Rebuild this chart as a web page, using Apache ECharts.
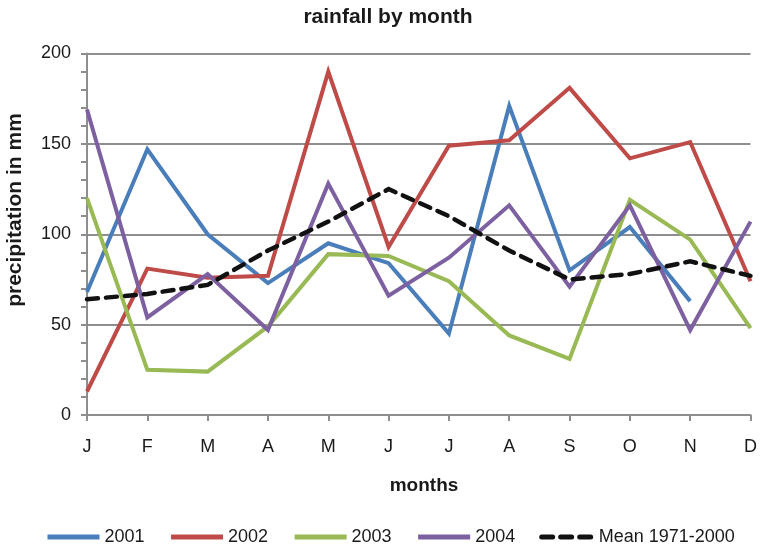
<!DOCTYPE html>
<html>
<head>
<meta charset="utf-8">
<script src="https://cdn.jsdelivr.net/npm/echarts@6/dist/echarts.min.js"></script>
<style>
  html, body { margin: 0; padding: 0; background: #fff; }
  #chart { width: 760px; height: 550px; }
</style>
</head>
<body>
<div id="chart"></div>
<script>
// Monthly precipitation (mm)
const months = ['J', 'F', 'M', 'A', 'M', 'J', 'J', 'A', 'S', 'O', 'N', 'D'];
const rain2001 = [68, 147, 100, 73, 95, 84, 45, 171, 80, 104, 63, null];
const rain2002 = [13, 81, 76, 77, 190, 93, 149, 152, 181, 142, 151, 74];
const rain2003 = [120, 25, 24, 49, 89, 88, 74, 44, 31, 119, 97, 48];
const rain2004 = [169, 54, 78, 47, 128, 66, 87, 116, 71, 116, 47, 107];
const meanRain = [64, 67, 72, 91, 107, 125, 110, 91, 75, 78, 85, 77];

const FONT = '"Liberation Sans", Arial, Helvetica, sans-serif';
const GRID_GREY = '#8e8e8e';
const TEXT_COLOR = '#1a1a1a';

function lineSeries(name, data, color, dashed) {
  return {
    name: name,
    type: 'line',
    data: data,
    symbol: 'none',
    connectNulls: false,
    lineStyle: {
      color: color,
      width: dashed ? 4.5 : 4,
      type: dashed ? [11, 8] : 'solid',
      cap: dashed ? 'round' : 'butt',
      join: 'miter'
    },
    itemStyle: { color: color },
    emphasis: { disabled: true }
  };
}

const chart = echarts.init(document.getElementById('chart'), null, { renderer: 'canvas' });

chart.setOption({
  animation: false,
  backgroundColor: '#ffffff',
  textStyle: { fontFamily: FONT },
  graphic: [{
    type: 'text',
    x: 388,
    y: 17,
    style: {
      text: 'rainfall by month',
      fontFamily: FONT,
      fontSize: 21,
      fontWeight: 'bold',
      fill: TEXT_COLOR,
      align: 'center',
      verticalAlign: 'middle'
    }
  }, {
    type: 'text',
    x: 15,
    y: 210,
    rotation: Math.PI / 2,
    style: {
      text: 'precipitation in mm',
      fontFamily: FONT,
      fontSize: 21,
      fontWeight: 'bold',
      fill: TEXT_COLOR,
      align: 'center',
      verticalAlign: 'middle'
    }
  }, {
    type: 'text',
    x: 424,
    y: 486,
    style: {
      text: 'months',
      fontFamily: FONT,
      fontSize: 19,
      fontWeight: 'bold',
      fill: TEXT_COLOR,
      align: 'center',
      verticalAlign: 'middle'
    }
  }],
  grid: { left: 87, right: 7, top: 53.5, bottom: 135, containLabel: false },
  legend: {
    left: 40,
    bottom: 4,
    padding: [0, 5],
    itemWidth: 52,
    itemHeight: 12,
    itemGap: 24,
    itemStyle: { opacity: 0 },
    lineStyle: { width: 5 },
    textStyle: { fontFamily: FONT, fontSize: 18, color: TEXT_COLOR },
    data: ['2001', '2002', '2003', '2004', 'Mean 1971-2000']
  },
  xAxis: {
    type: 'category',
    data: months,
    boundaryGap: false,
    axisLine: { lineStyle: { color: GRID_GREY, width: 2 } },
    axisTick: { show: true, alignWithLabel: true, length: 6, lineStyle: { color: GRID_GREY, width: 2 } },
    axisLabel: { fontFamily: FONT, fontSize: 18, color: TEXT_COLOR, margin: 23, interval: 0 },
    splitLine: { show: false }
  },
  yAxis: {
    type: 'value',
    min: 0,
    max: 200,
    interval: 50,
    axisLine: { show: true, lineStyle: { color: GRID_GREY, width: 2 } },
    axisTick: { show: true, length: 6, lineStyle: { color: GRID_GREY, width: 2 } },
    minorTick: { show: true, splitNumber: 5, length: 6, lineStyle: { color: GRID_GREY, width: 2 } },
    axisLabel: { fontFamily: FONT, fontSize: 18, color: TEXT_COLOR, margin: 16 },
    splitLine: { show: true, lineStyle: { color: GRID_GREY, width: 2 } },
    minorSplitLine: { show: false }
  },
  series: [
    lineSeries('2001', rain2001, '#4a7ebb', false),
    lineSeries('2002', rain2002, '#be4b48', false),
    lineSeries('2003', rain2003, '#98b954', false),
    lineSeries('2004', rain2004, '#7d60a0', false),
    lineSeries('Mean 1971-2000', meanRain, '#111111', true)
  ]
});
</script>
</body>
</html>
